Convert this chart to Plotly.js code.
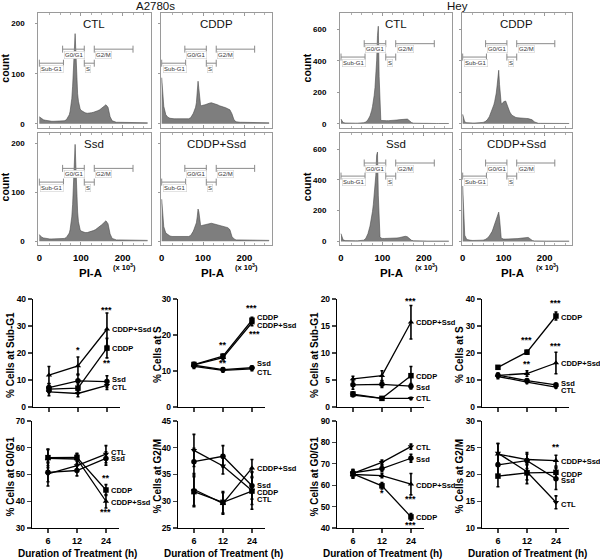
<!DOCTYPE html>
<html><head><meta charset="utf-8">
<script src="https://cdn.plot.ly/plotly-3.0.1.min.js"></script>
<style>html,body{margin:0;padding:0;background:#fff}#chart{width:600px;height:559px}</style>
</head><body><div id="chart"></div>
<script>
// ---------- Flow cytometry histograms (PI-A in x10^3, counts) ----------
const piA = [0,5,10,15,20,25,30,35,40,45,50,55,60,65,
  70,72,74,76,78,80,82,84,86,88,90,92,94,96,98,100,
  105,110,115,120,125,130,135,140,145,150,155,160,165,170,175,180,185,190,195,200,205,210,215,220,225,230,235,240,245,250,255,260];

const a2780sCTL = [14,10,8,7,6,6,5,5,5,5,5,5,6,8,
  14,18,25,35,50,75,110,150,180,140,90,60,45,36,30,27,
  24,22,21,21,22,23,24,26,28,31,34,38,33,14,6,4,3,3,3,3,3,3,3,2,2,2,2,2,2,2,2,2];
const a2780sCDDP = [92,35,18,13,11,10,10,10,10,10,9,9,9,10,
  12,14,17,20,24,28,33,42,60,85,70,45,38,36,36,37,
  38,40,41,42,41,40,38,36,35,33,32,30,28,20,8,4,3,3,3,3,3,3,2,2,2,2,2,2,2,2,2,2];
const a2780sSsd = [14,9,7,6,6,5,5,5,5,5,5,5,6,8,
  13,17,24,35,50,75,110,160,198,150,95,60,40,30,24,21,
  19,18,18,19,20,22,24,27,30,34,38,42,36,15,6,4,3,3,3,3,3,3,3,2,2,2,2,2,2,2,2,2];
const a2780sCombo = [86,30,17,13,11,10,10,9,9,9,9,9,9,10,
  12,14,17,20,24,28,32,38,50,66,60,40,34,32,32,33,
  34,35,36,37,36,35,34,33,32,31,30,28,24,10,5,3,3,3,3,3,2,2,2,2,2,2,2,2,2,2,2,2];

const heyCTL = [30,8,5,4,4,4,4,4,4,4,5,7,12,25,
  50,65,85,110,140,180,230,300,400,560,620,300,60,25,21,20,
  20,20,20,20,21,22,24,26,28,30,32,30,20,8,4,3,3,3,3,3,3,2,2,2,2,2,2,2,2,2,2,2];
const heyCDDP = [60,12,7,5,5,5,5,5,6,7,9,14,25,45,
  75,90,105,120,140,165,195,240,300,340,250,160,130,125,130,140,
  145,110,75,55,45,40,38,36,35,35,34,33,30,25,12,5,3,3,3,3,3,2,2,2,2,2,2,2,2,2,2,2];
const heySsd = [50,10,5,4,4,4,4,4,4,4,5,8,20,50,
  100,125,160,195,240,290,350,430,560,580,300,80,30,22,20,19,
  19,19,19,19,20,21,22,24,26,29,33,30,18,7,4,3,3,3,3,3,3,2,2,2,2,2,2,2,2,2,2,2];
const heyCombo = [360,40,12,8,7,6,6,6,6,6,8,12,20,35,
  55,65,80,95,110,125,135,150,175,190,150,60,25,18,16,15,
  15,15,15,15,16,17,18,20,22,25,28,26,16,6,3,2,2,2,2,2,2,2,2,2,2,2,2,2,2,2,2,2];

// gates
const gateNames = ['Sub-G1','G0/G1','S','G2/M'];
const gateStart = [0,56,108,132];
const gateEnd = [58,108,132,225];
const gateTier = [0,1,0,1];
const gateLevelA = [121,149];
const gateLevelHey = [424,509];

// ---------- Time course (% cells) ----------
const durations = ['6','12','24'];
const seriesNames = ['CTL','Ssd','CDDP','CDDP+Ssd'];

const aSubG1Mean = [[5.6,5.0,8.0],[7.2,9.7,9.4],[6.6,7.0,21.8],[11.8,15.2,28.8]];
const aSubG1Err  = [[1.4,1.2,1.5],[1.5,2.5,2.2],[1.2,1.5,3.6],[3.2,3.3,6.0]];
const aSubG1LabelY = [7.2,10.2,21.8,28.6];
const aSubG1StarX = [1,2,2], aSubG1StarY = [21,36,16.3], aSubG1StarText = ['*','***','**'];

const aSMean = [[11.3,10.2,10.6],[11.6,10.4,10.9],[11.8,14.1,24.1],[11.7,13.7,23.4]];
const aSErr  = [[0.6,0.5,0.5],[0.6,0.5,0.5],[0.6,0.6,0.8],[0.6,0.6,0.8]];
const aSLabelY = [9.6,12.1,24.9,22.6];
const aSStarX = [2,1,1,2.1], aSStarY = [27.4,17.2,12.1,20.4], aSStarText = ['***','**','**','***'];

const aG1Mean = [[50.2,53.3,57.6],[50.8,51.5,56.0],[56.3,56.4,44.2],[56.0,55.8,40.0]];
const aG1Err  = [[4.5,2.0,3.2],[3.5,2.0,2.5],[3.0,1.5,2.0],[3.5,1.8,2.5]];
const aG1LabelY = [58.4,55.8,44.0,39.6];
const aG1StarX = [2,2], aG1StarY = [48.6,35.8], aG1StarText = ['**','***'];

const aG2Mean = [[39.5,36.6,32.0],[37.4,38.4,32.9],[31.8,29.8,31.9],[32.2,29.6,36.2]];
const aG2Err  = [[3.0,1.5,3.5],[2.5,2.0,2.5],[2.8,2.0,2.5],[3.0,2.0,1.6]];
const aG2LabelY = [30.3,33.0,31.7,36.2];
const aG2StarX = [], aG2StarY = [], aG2StarText = [];

const hSubG1Mean = [[2.2,1.6,1.6],[4.1,4.2,3.85],[2.4,1.6,5.8],[5.2,5.8,15.7]];
const hSubG1Err  = [[0.3,0.2,0.2],[0.8,0.6,0.5],[0.4,0.2,1.7],[0.5,0.9,3.1]];
const hSubG1LabelY = [1.5,3.6,5.7,15.6];
const hSubG1StarX = [2], hSubG1StarY = [19.7], hSubG1StarText = ['***'];

const hSMean = [[11.3,9.2,7.4],[11.8,9.8,8.2],[14.7,20.3,33.7],[11.7,12.4,16.3]];
const hSErr  = [[0.8,0.5,0.4],[0.8,0.5,0.4],[0.5,0.7,1.5],[0.8,1.0,4.0]];
const hSLabelY = [6.0,8.8,33.2,16.0];
const hSStarX = [2,1,1,2], hSStarY = [38.4,24.8,16.1,22.7], hSStarText = ['***','***','**','***'];

const hG1Mean = [[65.5,70.7,78.0],[65.8,67.8,72.6],[65.3,59.7,45.2],[65.0,64.5,60.5]];
const hG1Err  = [[1.5,1.0,1.2],[1.5,1.5,1.8],[2.0,1.5,1.5],[1.5,1.0,5.0]];
const hG1LabelY = [77.7,71.8,44.7,59.7];
const hG1StarX = [1,2,2], hG1StarY = [56.3,53.5,41.5], hG1StarText = ['*','***','***'];

const hG2Mean = [[24.0,20.5,14.8],[21.8,22.6,19.2],[19.7,20.3,20.4],[23.8,22.8,22.6]];
const hG2Err  = [[1.8,1.5,1.2],[2.0,1.5,2.0],[2.0,2.0,1.0],[2.0,1.0,1.0]];
const hG2LabelY = [14.4,18.8,20.0,22.4];
const hG2StarX = [2], hG2StarY = [25.1], hG2StarText = ['**'];

// ---------- Build ----------
const FONT = 'Liberation Sans, Arial, sans-serif';
const W = 600, H = 559;
const px = (a,b) => [a/W, b/W];
const py = (t,b) => [1-b/H, 1-t/H];
const seriesSymbols = ['triangle-down','circle','square','triangle-up'];

const traces = [];
const layout = {width:W,height:H,margin:{l:0,r:0,t:0,b:0},paper_bgcolor:'#fff',plot_bgcolor:'rgba(0,0,0,0)',
  showlegend:false,annotations:[],font:{family:FONT,color:'#000'}};
const ann = a => layout.annotations.push(Object.assign({showarrow:false},a));

const histPanels = [
  {title:'CTL',counts:a2780sCTL,cell:'A',x:[38.3,150.5],y:[13.3,127.5],left:true,bottom:false},
  {title:'CDDP',counts:a2780sCDDP,cell:'A',x:[160.7,272.0],y:[13.3,127.5],left:false,bottom:false},
  {title:'Ssd',counts:a2780sSsd,cell:'A',x:[38.3,150.5],y:[133.3,245],left:true,bottom:true},
  {title:'CDDP+Ssd',counts:a2780sCombo,cell:'A',x:[160.7,272.0],y:[133.3,245],left:false,bottom:true},
  {title:'CTL',counts:heyCTL,cell:'H',x:[340,451.7],y:[13.3,127.5],left:true,bottom:false},
  {title:'CDDP',counts:heyCDDP,cell:'H',x:[461.7,572],y:[13.3,127.5],left:false,bottom:false},
  {title:'Ssd',counts:heySsd,cell:'H',x:[340,451.7],y:[133.3,245],left:true,bottom:true},
  {title:'CDDP+Ssd',counts:heyCombo,cell:'H',x:[461.7,572],y:[133.3,245],left:false,bottom:true}
];
const FRAME = '#9a9a9a', GATE = '#8a8a8a';
histPanels.forEach((p,i)=>{
  const n = i+1, xa = n===1?'x':'x'+n, ya = n===1?'y':'y'+n, key = n===1?'':n;
  traces.push({type:'scatter',mode:'lines',x:piA,y:p.counts,fill:'tozeroy',fillcolor:'#7e7e7e',
    line:{color:'#4a4a4a',width:0.6},xaxis:xa,yaxis:ya,hoverinfo:'skip'});
  const lv = p.cell==='A'?gateLevelA:gateLevelHey;
  gateNames.forEach((g,k)=>{
    const yv = lv[gateTier[k]];
    traces.push({type:'scatter',mode:'lines+markers',x:[gateStart[k],gateEnd[k]],y:[yv,yv],
      line:{color:GATE,width:1},marker:{symbol:'line-ns-open',size:5,line:{color:GATE,width:1}},
      xaxis:xa,yaxis:ya,hoverinfo:'skip'});
    ann({xref:xa,yref:ya,x:gateStart[k],y:yv,text:g,xanchor:'left',yanchor:'top',xshift:1,yshift:-1.5,
      font:{size:6,color:'#333'},bgcolor:'#fff',bordercolor:'#d0d0d0',borderwidth:0.6,borderpad:0.5});
  });
  const yr = p.cell==='A'?[-7.4,220.6]:[-23.5,702];
  const yt = p.cell==='A'?[0,100,200]:[0,200,400,600];
  layout['xaxis'+key] = {domain:px(p.x[0],p.x[1]),range:[-2.4,267],anchor:ya,showline:true,mirror:'ticks',
    linecolor:FRAME,linewidth:1,showgrid:false,zeroline:false,tickmode:'array',tickvals:[0,100,200],
    ticks:'inside',ticklen:3,tickcolor:FRAME,showticklabels:p.bottom,ticklabelstandoff:4,
    tickfont:{size:9.5,weight:'bold',family:FONT},
    minor:{tickmode:'linear',tick0:0,dtick:25,ticks:'inside',ticklen:2,tickcolor:'#b0b0b0'},fixedrange:true};
  layout['yaxis'+key] = {domain:py(p.y[0],p.y[1]),range:yr,anchor:xa,showline:true,mirror:true,
    linecolor:FRAME,linewidth:1,showgrid:false,zeroline:false,tickmode:'array',tickvals:yt,
    ticks:'outside',ticklen:2,tickcolor:FRAME,showticklabels:p.left,ticklabelstandoff:9,
    tickfont:{size:8,weight:'bold',family:FONT},fixedrange:true};
  ann({xref:'paper',yref:'paper',x:(p.x[0]+p.x[1])/2/W,y:1-(p.y[0]+10.5)/H,text:p.title,xanchor:'center',yanchor:'middle',
    font:{size:11.5,color:'#111'}});
  if(p.bottom){
    ann({xref:'paper',yref:'paper',x:((p.x[0]+p.x[1])/2-4)/W,y:1-273/H,text:'PI-A',xanchor:'center',yanchor:'middle',
      font:{size:11.5,weight:'bold'}});
    ann({xref:'paper',yref:'paper',x:(p.x[0]+86)/W,y:1-266.5/H,text:'(x 10<sup>3</sup>)',xanchor:'center',yanchor:'middle',
      font:{size:7.5,weight:'bold'}});
  }
  if(p.left){
    ann({xref:'paper',yref:'paper',x:(p.x[0]-33)/W,y:1-((p.y[0]+p.y[1])/2-2)/H,text:'count',textangle:-90,
      xanchor:'center',yanchor:'middle',font:{size:10.5,weight:'bold'}});
  }
});
ann({xref:'paper',yref:'paper',x:155/W,y:1-5.5/H,text:'A2780s',xanchor:'center',yanchor:'middle',font:{size:11.5,color:'#111'}});
ann({xref:'paper',yref:'paper',x:457/W,y:1-5.5/H,text:'Hey',xanchor:'center',yanchor:'middle',font:{size:11.5,color:'#111'}});

const linePanels = [
  {mean:aSubG1Mean,err:aSubG1Err,lab:aSubG1LabelY,sx:aSubG1StarX,sy:aSubG1StarY,st:aSubG1StarText,range:[0,40],dtick:10,title:'% Cells at Sub-G1',x0:33,row:1,tx:10},
  {mean:aSMean,err:aSErr,lab:aSLabelY,sx:aSStarX,sy:aSStarY,st:aSStarText,range:[0,30],dtick:10,title:'% Cells at S',x0:178,row:1,tx:157},
  {mean:hSubG1Mean,err:hSubG1Err,lab:hSubG1LabelY,sx:hSubG1StarX,sy:hSubG1StarY,st:hSubG1StarText,range:[0,20],dtick:5,title:'% Cells at Sub-G1',x0:337,row:1,tx:314},
  {mean:hSMean,err:hSErr,lab:hSLabelY,sx:hSStarX,sy:hSStarY,st:hSStarText,range:[0,40],dtick:10,title:'% Cells at S',x0:482,row:1,tx:459},
  {mean:aG1Mean,err:aG1Err,lab:aG1LabelY,sx:aG1StarX,sy:aG1StarY,st:aG1StarText,range:[30,70],dtick:10,title:'% Cells at G0/G1',x0:32,row:2,tx:10},
  {mean:aG2Mean,err:aG2Err,lab:aG2LabelY,sx:aG2StarX,sy:aG2StarY,st:aG2StarText,range:[25,45],dtick:5,title:'% Cells at G2/M',x0:178,row:2,tx:157},
  {mean:hG1Mean,err:hG1Err,lab:hG1LabelY,sx:hG1StarX,sy:hG1StarY,st:hG1StarText,range:[40,90],dtick:10,title:'% Cells at G0/G1',x0:337,row:2,tx:314},
  {mean:hG2Mean,err:hG2Err,lab:hG2LabelY,sx:hG2StarX,sy:hG2StarY,st:hG2StarText,range:[10,30],dtick:5,title:'% Cells at G2/M',x0:482,row:2,tx:459}
];
const rowY = {1:[299,407],2:[421,528]};
linePanels.forEach((p,j)=>{
  const n = 9+j, xa='x'+n, ya='y'+n;
  const xs = durations.map((d,i)=>i);
  seriesNames.forEach((s,k)=>{
    traces.push({type:'scatter',mode:'lines+markers',x:xs,y:p.mean[k],
      error_y:{type:'data',array:p.err[k],visible:true,color:'#000',thickness:1.6,width:1.5},
      line:{color:'#000',width:1.3},marker:{symbol:seriesSymbols[k],size:5.5,color:'#000'},
      xaxis:xa,yaxis:ya,cliponaxis:false,hoverinfo:'skip'});
    ann({xref:xa,yref:ya,x:2,y:p.lab[k],text:s,xanchor:'left',yanchor:'middle',xshift:3,font:{size:7.5,weight:'bold'}});
  });
  p.sx.forEach((sx,q)=>ann({xref:xa,yref:ya,x:sx,y:p.sy[q],text:p.st[q],xanchor:'center',yanchor:'middle',font:{size:9,weight:'bold'}}));
  const r = rowY[p.row];
  layout['xaxis'+n] = {domain:px(p.x0,p.x0+87),range:[-0.55,2.45],anchor:ya,showline:true,linecolor:'#000',linewidth:1.2,
    showgrid:false,zeroline:false,tickmode:'array',tickvals:xs,ticktext:durations,ticks:'outside',ticklen:4,tickwidth:1.1,
    showticklabels:p.row===2,tickfont:{size:9,weight:'bold',family:FONT},fixedrange:true};
  layout['yaxis'+n] = {domain:py(r[0],r[1]),range:p.range,anchor:xa,showline:true,linecolor:'#000',linewidth:1.2,
    showgrid:false,zeroline:false,dtick:p.dtick,tick0:0,ticks:'outside',ticklen:4,tickwidth:1.1,
    tickfont:{size:8.5,weight:'bold',family:FONT},fixedrange:true};
  ann({xref:'paper',yref:'paper',x:p.tx/W,y:1-((r[0]+r[1])/2+2)/H,text:p.title,textangle:-90,xanchor:'center',yanchor:'middle',
    font:{size:10,weight:'bold'}});
  if(p.row===2){
    ann({xref:'paper',yref:'paper',x:(p.x0+45)/W,y:1-553/H,text:'Duration of Treatment (h)',xanchor:'center',yanchor:'middle',
      font:{size:10,weight:'bold'}});
  }
});

Plotly.newPlot('chart',traces,layout,{staticPlot:true,displayModeBar:false});
</script>
</body></html>
